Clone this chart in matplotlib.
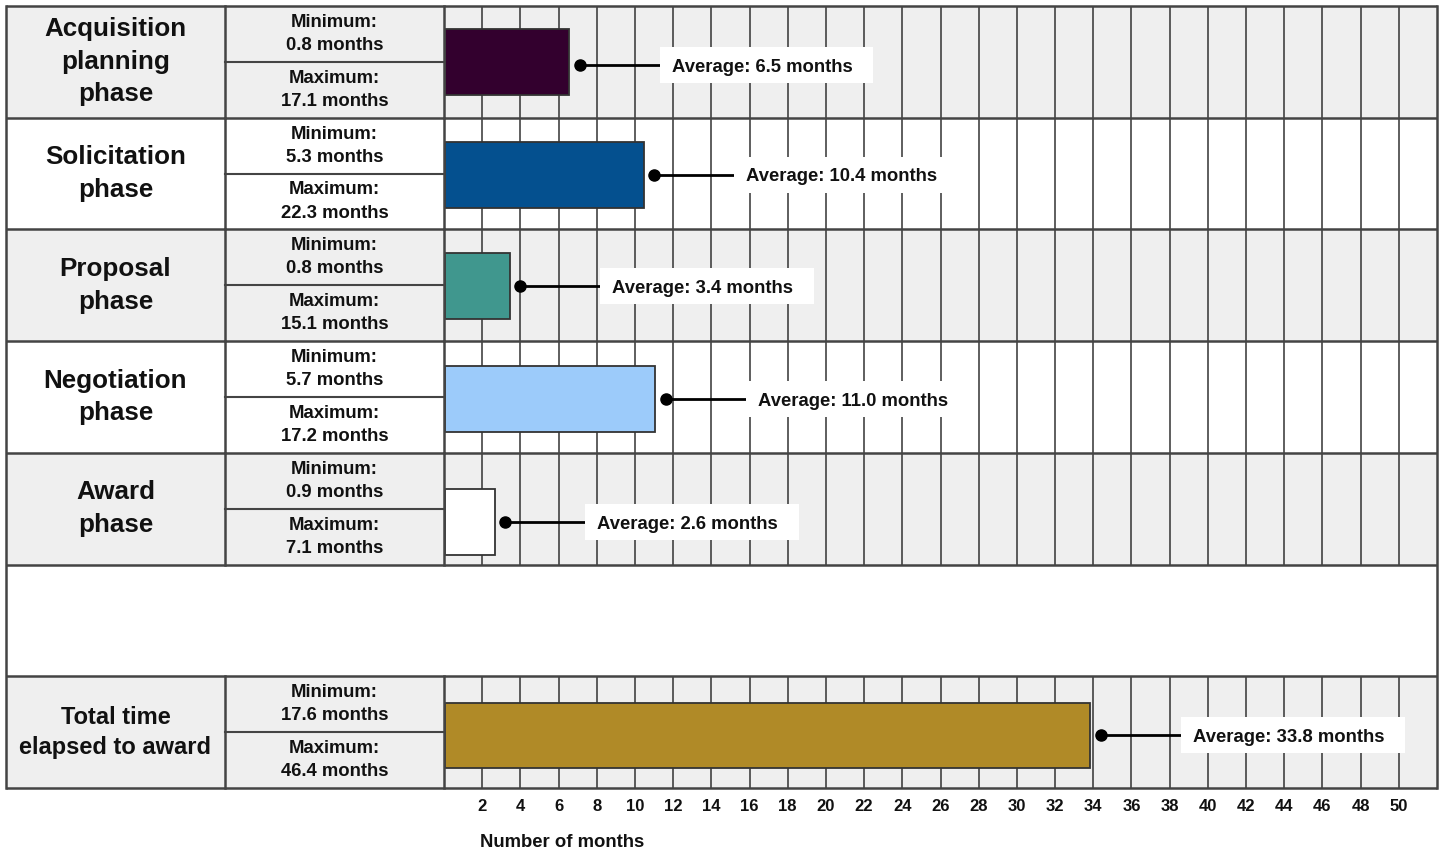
import matplotlib
matplotlib.use("Agg")
import matplotlib.pyplot as plt
from matplotlib.patches import Rectangle
from matplotlib.transforms import offset_copy

# ---------------- data ----------------
phases = ["Acquisition\nplanning\nphase", "Solicitation\nphase", "Proposal\nphase",
          "Negotiation\nphase", "Award\nphase", "", "Total time\nelapsed to award"]
minimums = [0.8, 5.3, 0.8, 5.7, 0.9, None, 17.6]
maximums = [17.1, 22.3, 15.1, 17.2, 7.1, None, 46.4]
averages = [6.5, 10.4, 3.4, 11.0, 2.6, None, 33.8]
tick_values = list(range(2, 51, 2))
xlabel = "Number of months"

# ---------------- styles ----------------
bar_colors = ["#33002e", "#04508f", "#40978e", "#9ccbfa", "#ffffff", None, "#b08a27"]
row_bg = ["#efefef", "#ffffff", "#efefef", "#ffffff", "#efefef", "#ffffff", "#efefef"]
bar_offsets = [0, 0.01, 0.01, 0.02, 0.12, 0, 0.03]
dot_offsets = [0.03, 0, 0, 0, 0, 0, 0]
phase_sizes = [18.7, 18.7, 18.7, 18.7, 18.7, 18.7, 17]
phase_spacing = [1.45, 1.45, 1.45, 1.45, 1.45, 1.45, 1.4]
FONT = "Liberation Sans"
W, H = 1440, 852
XMAX = 52
LINE = "#333333"
BORDER = "#444444"

fig = plt.figure(figsize=(W / 100, H / 100), dpi=100)
fig.patch.set_facecolor("white")

top_px, bot_px = 6, 788
ax = fig.add_axes([444 / W, 1 - bot_px / H, (1437 - 444) / W, (bot_px - top_px) / H])
axl = fig.add_axes([6 / W, 1 - bot_px / H, (444 - 6) / W, (bot_px - top_px) / H])
nrows = len(phases)
for a in (ax, axl):
    a.set_ylim(nrows, 0)
    a.axis("off")
ax.set_xlim(0, XMAX)
axl.set_xlim(0, 2)

# backgrounds
for i in range(nrows):
    ax.add_patch(Rectangle((0, i), XMAX, 1, facecolor=row_bg[i], edgecolor="none", zorder=0))
    axl.add_patch(Rectangle((0, i), 2, 1, facecolor=row_bg[i], edgecolor="none", zorder=0))

# gridlines (not in empty row)
for i in range(nrows):
    if averages[i] is None:
        continue
    ax.vlines(tick_values, i, i + 1, colors=LINE, linewidth=1.1, zorder=1)

# row borders
for i in range(nrows + 1):
    ax.plot([0, XMAX], [i, i], color=BORDER, lw=1.8, zorder=5, clip_on=False,
            solid_capstyle="butt")
    axl.plot([0, 2], [i, i], color=BORDER, lw=1.8, zorder=5, clip_on=False,
             solid_capstyle="butt")
# vertical borders
axl.plot([0, 0], [0, nrows], color=BORDER, lw=1.8, zorder=5, clip_on=False)
ax.plot([XMAX, XMAX], [0, nrows], color=BORDER, lw=1.8, zorder=5, clip_on=False)
for i in range(nrows):
    if averages[i] is None:
        continue
    axl.plot([1, 1], [i, i + 1], color=BORDER, lw=1.8, zorder=5, clip_on=False)
    axl.plot([2, 2], [i, i + 1], color=BORDER, lw=1.8, zorder=5, clip_on=False)
    axl.plot([1, 2], [i + 0.5, i + 0.5], color=BORDER, lw=1.5, zorder=5, clip_on=False)

# left texts
for i in range(nrows):
    if averages[i] is None:
        continue
    axl.text(0.5, i + 0.5, phases[i], ha="center", va="center", fontsize=phase_sizes[i],
             fontweight="bold", family=FONT, linespacing=phase_spacing[i], color="#111111")
    axl.text(1.5, i + 0.25, f"Minimum:\n{minimums[i]} months", ha="center", va="center",
             fontsize=13.3, fontweight="bold", family=FONT, linespacing=1.47, color="#111111")
    axl.text(1.5, i + 0.75, f"Maximum:\n{maximums[i]} months", ha="center", va="center",
             fontsize=13.3, fontweight="bold", family=FONT, linespacing=1.47, color="#111111")

# bars
ys = [i + 0.5 + bar_offsets[i] for i in range(nrows)]
for i in range(nrows):
    if averages[i] is None:
        continue
    ax.barh(ys[i], averages[i], height=0.59, color=bar_colors[i], edgecolor=LINE,
            linewidth=1.3, zorder=3, left=0.05)

# dots, leader lines and labels
px_per_month = (1437 - 444) / XMAX
row_px = (bot_px - top_px) / nrows
text_tr = offset_copy(ax.transData, fig=fig, x=0, y=-6.8, units="dots")
labels = []
for i in range(nrows):
    if averages[i] is None:
        continue
    yd = ys[i] + dot_offsets[i]
    xd = averages[i] + 0.6
    xb = xd + 80 / px_per_month
    ax.plot([xd, xb], [yd, yd], color="black", lw=2, zorder=4)
    ax.plot([xd], [yd], "o", color="black", ms=8, zorder=4)
    t = ax.text(xb + 12 / px_per_month, yd, f"Average: {averages[i]:.1f} months",
                ha="left", va="baseline", fontsize=13.3, fontweight="bold", family=FONT,
                color="#111111", zorder=7, transform=text_tr)
    labels.append((t, xb, yd))

fig.canvas.draw()
r = fig.canvas.get_renderer()
inv = ax.transData.inverted()
for t, xb, y in labels:
    bb = t.get_window_extent(renderer=r)
    x1 = inv.transform((bb.x1 + 21, 0))[0]
    hh = 36 / row_px
    ax.add_patch(Rectangle((xb, y - hh / 2), x1 - xb, hh, facecolor="white",
                           edgecolor="none", zorder=6))

# tick labels
for v in tick_values:
    ax.text(v, nrows + 0.165, str(v), ha="center", va="center", fontsize=12,
            fontweight="bold", family=FONT, color="#111111", clip_on=False)
ax.text(1.9, nrows + 0.49, xlabel, ha="left", va="center", fontsize=13.3,
        fontweight="bold", family=FONT, color="#111111", clip_on=False)

fig.savefig("out.png", dpi=100, facecolor="white")
